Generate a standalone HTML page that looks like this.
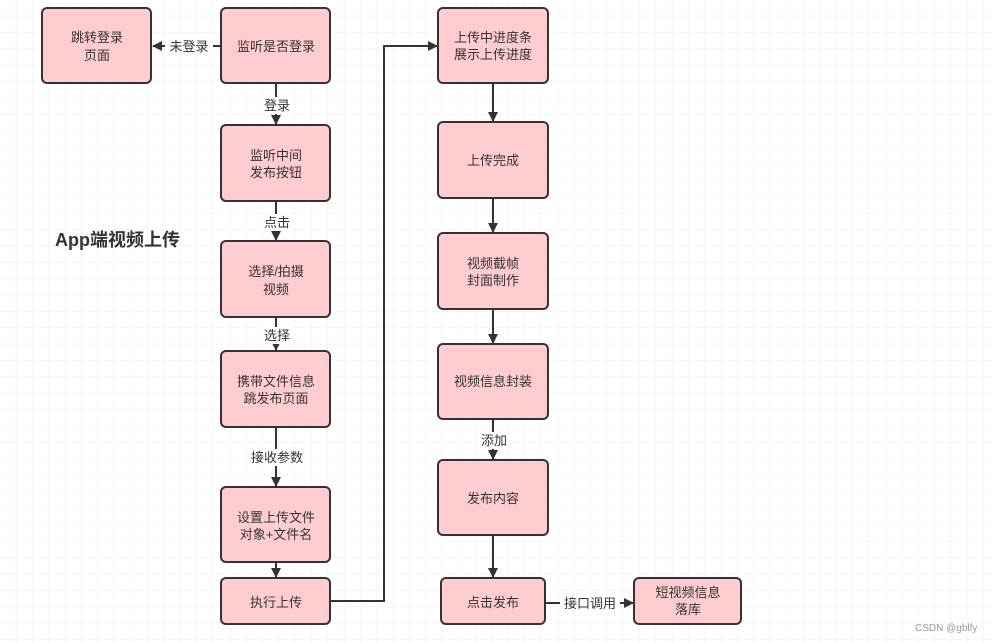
<!DOCTYPE html>
<html><head><meta charset="utf-8"><style>
html,body{margin:0;padding:0;background:#fff}
svg{display:block}
text{font-family:"Liberation Sans","Noto Sans CJK SC",sans-serif;fill:#333}
.b{fill:#ffccd0;stroke:#333;stroke-width:2}
.l{stroke:#333;stroke-width:2;fill:none}
.t{font-size:13px;text-anchor:middle}
</style></head><body>
<svg width="992" height="643" viewBox="0 0 992 643" xmlns="http://www.w3.org/2000/svg">
<defs>
<pattern id="g" width="16.4" height="16.4" patternUnits="userSpaceOnUse">
<path d="M16.4 0V16.4H0" fill="none" stroke="#ebebeb" stroke-width="1"/>
</pattern>
<marker id="a" markerWidth="10" markerHeight="10" refX="9" refY="5" orient="auto" markerUnits="userSpaceOnUse">
<path d="M0 0L10 5L0 10Z" fill="#333"/>
</marker>
</defs>
<rect width="992" height="643" fill="url(#g)"/>

<!-- connectors -->
<path class="l" d="M221 46H153" marker-end="url(#a)"/>
<rect x="165" y="37" width="48" height="18" fill="#fff"/>
<text x="189" y="51" class="t">未登录</text>

<path class="l" d="M276 83V124" marker-end="url(#a)"/>
<rect x="262" y="97" width="30" height="17" fill="#fff"/>
<text x="277" y="110" class="t">登录</text>

<path class="l" d="M276 201V240" marker-end="url(#a)"/>
<rect x="262" y="214" width="30" height="17" fill="#fff"/>
<text x="277" y="227" class="t">点击</text>

<path class="l" d="M276 317V350" marker-end="url(#a)"/>
<rect x="262" y="327" width="30" height="17" fill="#fff"/>
<text x="277" y="340" class="t">选择</text>

<path class="l" d="M276 427V486" marker-end="url(#a)"/>
<rect x="246" y="449" width="60" height="17" fill="#fff"/>
<text x="277" y="462" class="t">接收参数</text>

<path class="l" d="M276 562V577" marker-end="url(#a)"/>

<path class="l" d="M330 601H384V46H437" marker-end="url(#a)"/>

<path class="l" d="M493 83V121" marker-end="url(#a)"/>
<path class="l" d="M493 198V232" marker-end="url(#a)"/>
<path class="l" d="M493 309V343" marker-end="url(#a)"/>
<path class="l" d="M493 419V459" marker-end="url(#a)"/>
<rect x="478" y="432" width="30" height="17" fill="#fff"/>
<text x="494" y="445" class="t">添加</text>
<path class="l" d="M493 535V577" marker-end="url(#a)"/>

<path class="l" d="M545 603H633" marker-end="url(#a)"/>
<rect x="560" y="594" width="60" height="18" fill="#fff"/>
<text x="590" y="608" class="t">接口调用</text>

<!-- boxes -->
<rect class="b" x="42" y="8" width="109" height="75" rx="5"/>
<text x="97" y="42" class="t">跳转登录</text><text x="97" y="60" class="t">页面</text>

<rect class="b" x="221" y="8" width="109" height="75" rx="5"/>
<text x="276" y="51" class="t">监听是否登录</text>

<rect class="b" x="221" y="125" width="109" height="76" rx="5"/>
<text x="276" y="160" class="t">监听中间</text><text x="276" y="177" class="t">发布按钮</text>

<rect class="b" x="221" y="241" width="109" height="76" rx="5"/>
<text x="276" y="276" class="t">选择/拍摄</text><text x="276" y="294" class="t">视频</text>

<rect class="b" x="221" y="351" width="109" height="76" rx="5"/>
<text x="276" y="386" class="t">携带文件信息</text><text x="276" y="403" class="t">跳发布页面</text>

<rect class="b" x="221" y="487" width="109" height="75" rx="5"/>
<text x="276" y="522" class="t">设置上传文件</text><text x="276" y="539" class="t">对象+文件名</text>

<rect class="b" x="221" y="578" width="109" height="46" rx="5"/>
<text x="276" y="607" class="t">执行上传</text>

<rect class="b" x="438" y="8" width="110" height="75" rx="5"/>
<text x="493" y="42" class="t">上传中进度条</text><text x="493" y="59" class="t">展示上传进度</text>

<rect class="b" x="438" y="122" width="110" height="76" rx="5"/>
<text x="493" y="165" class="t">上传完成</text>

<rect class="b" x="438" y="233" width="110" height="76" rx="5"/>
<text x="493" y="268" class="t">视频截帧</text><text x="493" y="285" class="t">封面制作</text>

<rect class="b" x="438" y="344" width="110" height="75" rx="5"/>
<text x="493" y="386" class="t">视频信息封装</text>

<rect class="b" x="438" y="460" width="110" height="75" rx="5"/>
<text x="493" y="503" class="t">发布内容</text>

<rect class="b" x="441" y="578" width="104" height="46" rx="5"/>
<text x="493" y="607" class="t">点击发布</text>

<rect class="b" x="634" y="578" width="107" height="46" rx="5"/>
<text x="688" y="597" class="t">短视频信息</text><text x="688" y="614" class="t">落库</text>

<text x="55" y="246" style="font-size:18px;font-weight:bold">App端视频上传</text>
<text x="915" y="631" style="font-size:10px;fill:#999">CSDN @gblfy</text>
</svg>
</body></html>
